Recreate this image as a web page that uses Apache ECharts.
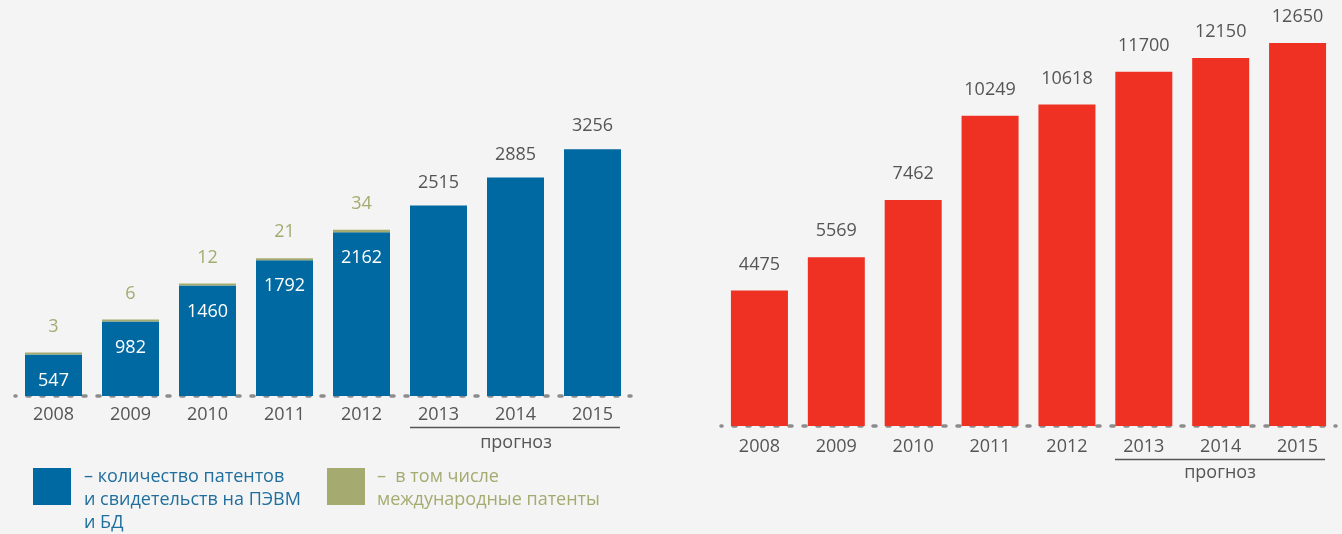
<!DOCTYPE html>
<html>
<head>
<meta charset="utf-8">
<script src="https://cdn.jsdelivr.net/npm/echarts@6/dist/echarts.min.js"></script>
<style>
  html, body { margin: 0; padding: 0; background: #f3f4f3; }
  #chart { width: 1342px; height: 534px; }
</style>
</head>
<body>
<div id="chart"></div>
<script>
// years on both charts
var years = ['2008', '2009', '2010', '2011', '2012', '2013', '2014', '2015'];
// 2013-2015 are forecast
var forecastFrom = 5;
// left chart: patents + certificates, of which international
var patents = [547, 982, 1460, 1792, 2162, 2515, 2885, 3256];
var intlPatents = [3, 6, 12, 21, 34, null, null, null];
// right chart
var totals = [4475, 5569, 7462, 10249, 10618, 11700, 12150, 12650];

var blue = '#0069a1';
var olive = '#a5ab70';
var red = '#ef3124';
var grey = '#555555';
var font = 'Open Sans';

var chartDom = document.getElementById('chart');
var myChart = echarts.init(chartDom);

// blue bars: label inside for real years, above for forecast
var patentData = patents.map(function (v, i) {
  if (i < forecastFrom) {
    return { value: v, label: { position: 'insideTop', distance: 17, color: '#fff' } };
  }
  return { value: v, label: { position: 'top', distance: 14, color: grey } };
});

var baseAxis = {
  type: 'category',
  axisTick: { show: false },
  axisLine: {
    show: true,
    lineStyle: { color: '#8c8c8c', width: 3.5, type: [3, 11], dashOffset: 2 }
  }
};

var option = {
  backgroundColor: '#f3f4f3',
  animation: false,
  grid: [
    { left: 15, right: 711, top: 93, bottom: 138 },
    { left: 721, right: 6, top: 26, bottom: 108 }
  ],
  xAxis: [
    Object.assign({}, baseAxis, { gridIndex: 0, data: years,
      axisLabel: { color: grey, fontSize: 18, fontFamily: font, margin: 10 } }),
    Object.assign({}, baseAxis, { gridIndex: 1, data: years,
      axisLabel: { color: grey, fontSize: 18, fontFamily: font, margin: 12 } })
  ],
  yAxis: [
    { type: 'value', gridIndex: 0, min: 0, max: 4000, show: false, splitLine: { show: false } },
    { type: 'value', gridIndex: 1, min: 0, max: 13210, show: false, splitLine: { show: false } }
  ],
  series: [
    {
      name: 'количество патентов и свидетельств на ПЭВМ и БД',
      type: 'bar',
      xAxisIndex: 0,
      yAxisIndex: 0,
      stack: 'left',
      barWidth: 57,
      itemStyle: { color: blue },
      label: { show: true, fontSize: 18, fontFamily: font },
      data: patentData
    },
    {
      name: 'в том числе международные патенты',
      type: 'bar',
      xAxisIndex: 0,
      yAxisIndex: 0,
      stack: 'left',
      barWidth: 57,
      barMinHeight: 2,
      itemStyle: { color: olive },
      label: { show: true, position: 'top', distance: 17, color: olive, fontSize: 18, fontFamily: font },
      data: intlPatents
    },
    {
      name: 'всего',
      type: 'bar',
      xAxisIndex: 1,
      yAxisIndex: 1,
      barWidth: 57,
      itemStyle: { color: red },
      label: { show: true, position: 'top', distance: 17, color: grey, fontSize: 18, fontFamily: font },
      data: totals
    }
  ],
  graphic: [
    // forecast brackets
    { type: 'line', shape: { x1: 410, y1: 427.5, x2: 620, y2: 427.5 }, style: { stroke: grey, lineWidth: 1.5 } },
    { type: 'text', x: 516, y: 443, style: { text: 'прогноз', fill: grey, font: '18px "Open Sans"', align: 'center', verticalAlign: 'middle' } },
    { type: 'line', shape: { x1: 1115, y1: 459.5, x2: 1325, y2: 459.5 }, style: { stroke: grey, lineWidth: 1.5 } },
    { type: 'text', x: 1220, y: 473, style: { text: 'прогноз', fill: grey, font: '18px "Open Sans"', align: 'center', verticalAlign: 'middle' } },
    // legend
    { type: 'rect', shape: { x: 33, y: 468, width: 38, height: 37 }, style: { fill: blue } },
    { type: 'text', x: 84, y: 465, style: {
        text: '– количество патентов\nи свидетельств на ПЭВМ\nи БД',
        fill: '#1f6e9e', font: '18px "Open Sans"', lineHeight: 23 } },
    { type: 'rect', shape: { x: 327, y: 468, width: 38, height: 37 }, style: { fill: olive } },
    { type: 'text', x: 377, y: 465, style: {
        text: '–  в том числе\nмеждународные патенты',
        fill: olive, font: '18px "Open Sans"', lineHeight: 23 } }
  ]
};

option && myChart.setOption(option);
</script>
</body>
</html>
